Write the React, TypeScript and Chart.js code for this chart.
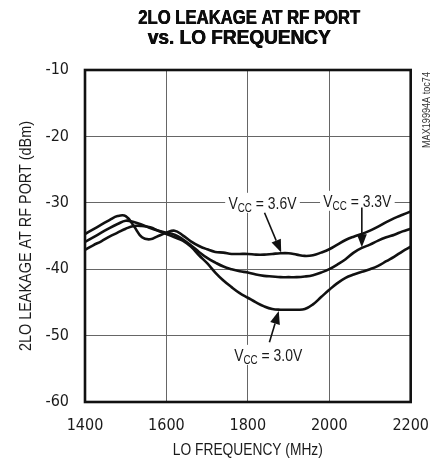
import React, { useEffect, useRef } from "react";
import { Chart, registerables } from "chart.js";

Chart.register(...registerables);

const FREQ = [
  1400, 1420, 1440, 1460, 1480, 1500, 1520, 1540, 1560, 1580, 1600, 1620, 1640, 1660, 1680, 1700,
  1720, 1740, 1760, 1780, 1800, 1820, 1840, 1860, 1880, 1900, 1920, 1940, 1960, 1980, 2000, 2020,
  2040, 2060, 2080, 2100, 2120, 2140, 2160, 2180, 2200,
];

const VCC_36 = [
  -34.7, -34.0, -33.3, -32.6, -32.0, -32.0, -33.5, -35.2, -35.5, -35.0, -34.5, -34.2, -34.9, -35.8,
  -36.5, -37.0, -37.4, -37.5, -37.7, -37.7, -37.7, -37.8, -37.8, -37.7, -37.6, -37.6, -37.8, -38.0,
  -37.9, -37.5, -37.0, -36.3, -35.6, -35.1, -34.7, -34.2, -33.6, -32.9, -32.3, -31.8, -31.3,
];

const VCC_33 = [
  -35.9, -35.2, -34.5, -33.8, -33.2, -32.7, -32.9, -33.3, -33.8, -34.2, -34.5, -34.8, -35.5, -36.4,
  -37.4, -38.3, -39.0, -39.6, -40.0, -40.3, -40.5, -40.8, -41.0, -41.1, -41.2, -41.2, -41.2, -41.1,
  -40.9, -40.5, -40.0, -39.3, -38.5, -37.5, -36.8, -36.3, -35.7, -35.2, -34.8, -34.3, -33.9,
];

const VCC_30 = [
  -37.1, -36.4, -35.8, -35.1, -34.5, -33.9, -33.5, -33.5, -33.7, -34.2, -34.7, -35.2, -35.7, -36.6,
  -37.9, -39.1, -40.5, -41.7, -42.7, -43.6, -44.3, -45.0, -45.6, -46.0, -46.1, -46.1, -46.1, -46.0,
  -45.3, -44.2, -43.1, -42.1, -41.3, -40.8, -40.4, -40.0, -39.5, -38.8, -38.1, -37.3, -36.6,
];

const SERIES_LABELS = ["VCC = 3.6V", "VCC = 3.3V", "VCC = 3.0V"];
const X_TICKS = [1400, 1600, 1800, 2000, 2200];
const Y_TICKS = [-60, -50, -40, -30, -20, -10];

const TITLE_LINES = ["2LO LEAKAGE AT RF PORT", "vs. LO FREQUENCY"];
const X_TITLE = "LO FREQUENCY (MHz)";
const Y_TITLE = "2LO LEAKAGE AT RF PORT (dBm)";
const SIDE_NOTE = "MAX19994A toc74";

const TICK_FONT = '"DejaVu Sans Condensed", "Liberation Sans Narrow", sans-serif';
const TEXT_FONT = '"Liberation Sans", Arial, sans-serif';
const INK = "#1a1a1a";
const NARROW = 0.82;

// Annotation anchors (in data units): label center, arrow tail, arrow tip
const ANNOTATIONS = [
  { value: "3.6V", label: [1836, -30.0], tail: [1841, -31.5], tip: [1882, -37.5] },
  { value: "3.3V", label: [2069, -29.7], tail: [2080, -30.7], tip: [2080, -36.7] },
  { value: "3.0V", label: [1850, -52.9], tail: [1853, -51.0], tip: [1876, -46.3] },
];

function drawFitted(
  ctx: CanvasRenderingContext2D,
  text: string,
  x: number,
  y: number,
  font: string,
  width: number,
  rotate = 0,
  heavy = false
) {
  ctx.save();
  ctx.font = font;
  const w = ctx.measureText(text).width;
  ctx.translate(x, y);
  if (rotate) ctx.rotate(rotate);
  ctx.scale(width / w, 1);
  ctx.textAlign = "center";
  ctx.textBaseline = "middle";
  ctx.fillText(text, 0, 0);
  if (heavy) {
    ctx.fillText(text, 0.7, 0);
    ctx.fillText(text, 0.35, 0.3);
  }
  ctx.restore();
}

const decorPlugin = {
  id: "decor",
  afterDraw(chart: any) {
    const ctx = chart.ctx as CanvasRenderingContext2D;
    const { left, right, top, bottom } = chart.chartArea;
    const xs = chart.scales.x;
    const ys = chart.scales.y;

    ctx.save();
    // frame
    ctx.strokeStyle = "#111";
    ctx.lineWidth = 2.6;
    ctx.strokeRect(left, top, right - left, bottom - top);

    // title
    ctx.fillStyle = "#0d0d0d";
    drawFitted(ctx, TITLE_LINES[0], 249, 18, `bold 21px ${TEXT_FONT}`, 222, 0, true);
    drawFitted(ctx, TITLE_LINES[1], 239, 38, `bold 21px ${TEXT_FONT}`, 183, 0, true);

    // axis titles
    ctx.fillStyle = INK;
    drawFitted(ctx, X_TITLE, (left + right) / 2, 450, `17px ${TEXT_FONT}`, 150);
    drawFitted(ctx, Y_TITLE, 26, (top + bottom) / 2, `17px ${TEXT_FONT}`, 230, -Math.PI / 2);

    // side note
    ctx.fillStyle = "#333";
    drawFitted(ctx, SIDE_NOTE, 427, 110, `10px ${TEXT_FONT}`, 76, -Math.PI / 2);

    // annotations
    ANNOTATIONS.forEach((a) => {
      const lx = xs.getPixelForValue(a.label[0]);
      const ly = ys.getPixelForValue(a.label[1]);
      const big = `17px ${TEXT_FONT}`;
      const small = `12px ${TEXT_FONT}`;
      ctx.font = big;
      const wV = ctx.measureText("V").width;
      const rest = ` = ${a.value}`;
      const wR = ctx.measureText(rest).width;
      ctx.font = small;
      const wC = ctx.measureText("CC").width;
      const total = wV + wC + wR;
      ctx.save();
      ctx.translate(lx, ly);
      ctx.scale(NARROW, 1);
      const x0 = -total / 2;
      ctx.fillStyle = "#fff";
      ctx.fillRect(x0 - 4, -10, total + 8, 20);
      ctx.fillStyle = INK;
      ctx.textAlign = "left";
      ctx.textBaseline = "alphabetic";
      ctx.font = big;
      ctx.fillText("V", x0, 6);
      ctx.font = small;
      ctx.fillText("CC", x0 + wV, 9);
      ctx.font = big;
      ctx.fillText(rest, x0 + wV + wC, 6);
      ctx.restore();

      // arrow
      const tx = xs.getPixelForValue(a.tail[0]);
      const ty = ys.getPixelForValue(a.tail[1]);
      const px = xs.getPixelForValue(a.tip[0]);
      const py = ys.getPixelForValue(a.tip[1]);
      const ang = Math.atan2(py - ty, px - tx);
      const headLen = 13;
      const headW = 5;
      const bx = px - headLen * Math.cos(ang);
      const by = py - headLen * Math.sin(ang);
      ctx.strokeStyle = "#111";
      ctx.lineWidth = 1.6;
      ctx.beginPath();
      ctx.moveTo(tx, ty);
      ctx.lineTo(bx, by);
      ctx.stroke();
      ctx.fillStyle = "#111";
      ctx.beginPath();
      ctx.moveTo(px, py);
      ctx.lineTo(bx + headW * Math.sin(ang), by - headW * Math.cos(ang));
      ctx.lineTo(bx - headW * Math.sin(ang), by + headW * Math.cos(ang));
      ctx.closePath();
      ctx.fill();
    });
    ctx.restore();
  },
};

export default function App() {
  const ref = useRef<HTMLCanvasElement | null>(null);

  useEffect(() => {
    if (!ref.current) return;
    const series = [VCC_36, VCC_33, VCC_30];
    const chart = new Chart(ref.current, {
      type: "line",
      data: {
        datasets: series.map((vals, i) => ({
          label: SERIES_LABELS[i],
          data: FREQ.map((f, j) => ({ x: f, y: vals[j] })),
          borderColor: "#111",
          borderWidth: 2.6,
          pointRadius: 0,
          tension: 0.4,
          fill: false,
        })),
      },
      options: {
        animation: false,
        responsive: false,
        devicePixelRatio: 1,
        layout: { padding: { top: 70, right: 27, left: 0, bottom: 0 } },
        plugins: { legend: { display: false }, tooltip: { enabled: false }, title: { display: false } },
        scales: {
          x: {
            type: "linear",
            min: 1400,
            max: 2200,
            afterBuildTicks: (s: any) => {
              s.ticks = X_TICKS.map((v) => ({ value: v }));
            },
            afterFit: (s: any) => {
              s.height = 60;
            },
            ticks: {
              color: INK,
              font: { family: TICK_FONT, size: 16 },
              padding: 14,
              maxRotation: 0,
              callback: (v: any) => String(v),
            },
            grid: { color: "#666", lineWidth: 1, drawTicks: false },
            border: { display: false },
          },
          y: {
            type: "linear",
            min: -60,
            max: -10,
            afterBuildTicks: (s: any) => {
              s.ticks = Y_TICKS.map((v) => ({ value: v }));
            },
            afterFit: (s: any) => {
              s.width = 85;
            },
            ticks: {
              color: INK,
              font: { family: TICK_FONT, size: 16 },
              padding: 16,
              callback: (v: any) => String(v),
            },
            grid: { color: "#666", lineWidth: 1, drawTicks: false },
            border: { display: false },
          },
        },
      },
      plugins: [decorPlugin],
    });
    return () => chart.destroy();
  }, []);

  return (
    <div style={{ position: "fixed", left: 0, top: 0, width: 443, height: 462, background: "#fff" }}>
      <canvas ref={ref} width={443} height={462} style={{ display: "block", width: 443, height: 462 }} />
    </div>
  );
}
